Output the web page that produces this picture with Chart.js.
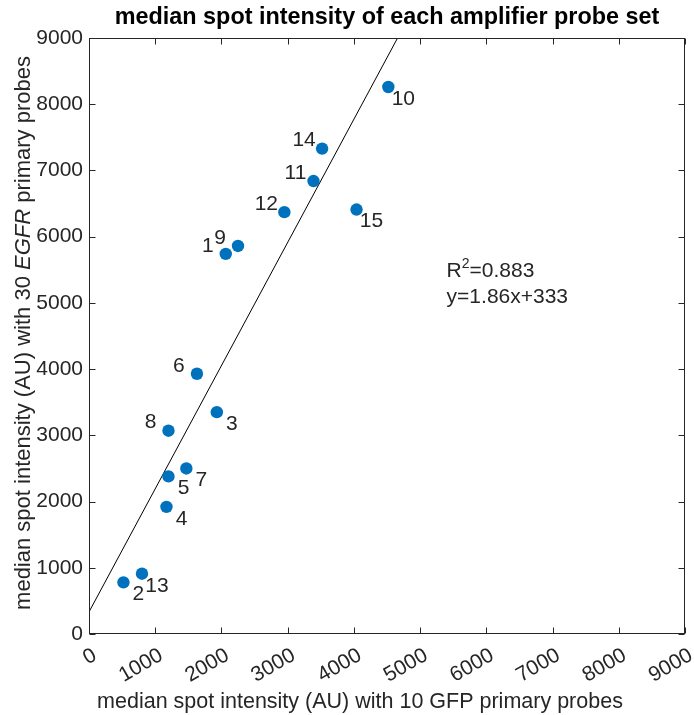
<!DOCTYPE html>
<html><head><meta charset="utf-8">
<script src="https://cdn.jsdelivr.net/npm/chart.js@4"></script>
<style>html,body{margin:0;padding:0;background:#fff}#wrap{width:694px;height:715px}</style>
</head><body><div id="wrap"><canvas id="c" width="694" height="715"></canvas></div>
<script>
const probeSetIds   = ['1','2','3','4','5','6','7','8','9','10','11','12','13','14','15'];
const gfpIntensity  = [2065, 520, 1930, 1170, 1200, 1630, 1470, 1200, 2250, 4520, 3390, 2950, 800, 3520, 4040];
const egfrIntensity = [5740, 780, 3350, 1920, 2380, 3930, 2500, 3070, 5860, 8260, 6840, 6370, 910, 7330, 6410];
const xTickValues = [0,1000,2000,3000,4000,5000,6000,7000,8000,9000];
const yTickValues = [0,1000,2000,3000,4000,5000,6000,7000,8000,9000];
const fitSlope = 1.86;
const fitIntercept = 333;
const rSquaredText = '0.883';
const fitText = 'y=1.86x+333';
const chartTitle = 'median spot intensity of each amplifier probe set';
const xTitle = 'median spot intensity (AU) with 10 GFP primary probes';
const yTitleParts = [['median spot intensity (AU) with 30 ', false], ['EGFR', true], [' primary probes', false]];
const annotationAt = {x: 5400, y: 5490};

const FONT = '"Liberation Sans", Arial, Helvetica, sans-serif';
const TXT = '#262626';
const AXMAX = 9000;

const points = gfpIntensity.map((x, i) => ({x, y: egfrIntensity[i], id: probeSetIds[i]}));
const fitLine = [{x: 0, y: fitIntercept}, {x: (AXMAX - fitIntercept) / fitSlope, y: AXMAX}];

const decor = {
  id: 'decor',
  afterDatasetsDraw(chart) {
    const ctx = chart.ctx, a = chart.chartArea, xs = chart.scales.x, ys = chart.scales.y;
    ctx.save();
    // box
    ctx.strokeStyle = TXT; ctx.lineWidth = 1;
    const L = Math.round(a.left) + 0.5, R = Math.round(a.right) - 0.5, T = Math.round(a.top) + 0.5, B = Math.round(a.bottom) - 0.5;
    ctx.strokeRect(L, T, R - L, B - T);
    // inner ticks on all four sides
    ctx.beginPath();
    const tl = 6;
    xTickValues.forEach(v => {
      const px = Math.round(xs.getPixelForValue(v)) + 0.5;
      ctx.moveTo(px, B); ctx.lineTo(px, B - tl);
      ctx.moveTo(px, T); ctx.lineTo(px, T + tl);
    });
    yTickValues.forEach(v => {
      const py = Math.round(ys.getPixelForValue(v)) + 0.5;
      ctx.moveTo(L, py); ctx.lineTo(L + tl, py);
      ctx.moveTo(R, py); ctx.lineTo(R - tl, py);
    });
    ctx.stroke();
    // point labels: above the fit line -> upper-left, below -> lower-right
    ctx.fillStyle = TXT;
    ctx.font = '21px ' + FONT;
    ctx.textAlign = 'center';
    ctx.textBaseline = 'middle';
    points.forEach(p => {
      const px = xs.getPixelForValue(p.x), py = ys.getPixelForValue(p.y);
      const above = p.y > fitSlope * p.x + fitIntercept;
      if (above) ctx.fillText(p.id, px - 18, py - 8);
      else ctx.fillText(p.id, px + 15, py + 12);
    });
    // annotation
    const ax = xs.getPixelForValue(annotationAt.x), ay = ys.getPixelForValue(annotationAt.y);
    ctx.textAlign = 'left'; ctx.textBaseline = 'middle';
    ctx.font = '21px ' + FONT;
    ctx.fillText('R', ax, ay + 1);
    const rw = ctx.measureText('R').width;
    ctx.font = '14px ' + FONT;
    ctx.fillText('2', ax + rw, ay - 6);
    const sw = ctx.measureText('2').width;
    ctx.font = '21px ' + FONT;
    ctx.fillText('=' + rSquaredText, ax + rw + sw, ay + 1);
    ctx.fillText(fitText, ax, ay + 27);
    // title
    ctx.font = 'bold 23.4px ' + FONT;
    ctx.textAlign = 'center';
    ctx.fillStyle = '#000';
    ctx.fillText(chartTitle, (a.left + a.right) / 2, 18);
    // x title
    ctx.fillStyle = TXT;
    ctx.font = '21.5px ' + FONT;
    ctx.textBaseline = 'alphabetic';
    ctx.fillText(xTitle, 360, 708);
    // y title with italic part
    ctx.translate(30, 333);
    ctx.rotate(-Math.PI / 2);
    let total = 0;
    const fs = '22px ';
    const widths = yTitleParts.map(([t, it]) => { ctx.font = (it ? 'italic ' : '') + fs + FONT; const w = ctx.measureText(t).width; total += w; return w; });
    let cx = -total / 2;
    ctx.textAlign = 'left';
    yTitleParts.forEach(([t, it], i) => { ctx.font = (it ? 'italic ' : '') + fs + FONT; ctx.fillText(t, cx, 0); cx += widths[i]; });
    ctx.restore();
  }
};

new Chart(document.getElementById('c'), {
  type: 'scatter',
  data: {
    datasets: [
      { type: 'scatter', data: points, backgroundColor: '#0072BD', borderColor: '#0072BD', pointRadius: 6.2, pointHoverRadius: 6.2, borderWidth: 0, order: 1 },
      { type: 'line', data: fitLine, borderColor: '#000', borderWidth: 1, pointRadius: 0, fill: false, order: 2 }
    ]
  },
  options: {
    responsive: false, animation: false, devicePixelRatio: 1,
    layout: { padding: { top: 38, right: 9, left: 0, bottom: 0 } },
    plugins: { legend: { display: false }, title: { display: false }, tooltip: { enabled: false } },
    scales: {
      x: {
        type: 'linear', min: 0, max: AXMAX,
        afterBuildTicks: s => { s.ticks = xTickValues.map(v => ({value: v})); },
        afterFit: s => { s.height = 81; s.paddingLeft = 0; s.paddingRight = 0; },
        ticks: { color: TXT, font: { family: FONT, size: 21 }, minRotation: 30, maxRotation: 30, padding: 9, labelOffset: 6, autoSkip: false, callback: v => String(v) },
        grid: { display: false, drawTicks: false },
        border: { display: false }
      },
      y: {
        type: 'linear', min: 0, max: AXMAX,
        afterBuildTicks: s => { s.ticks = yTickValues.map(v => ({value: v})); },
        afterFit: s => { s.width = 89; s.paddingTop = 0; s.paddingBottom = 0; },
        ticks: { color: TXT, font: { family: FONT, size: 21 }, padding: 6, autoSkip: false, callback: v => String(v) },
        grid: { display: false, drawTicks: false },
        border: { display: false }
      }
    }
  },
  plugins: [decor]
});
</script></body></html>
